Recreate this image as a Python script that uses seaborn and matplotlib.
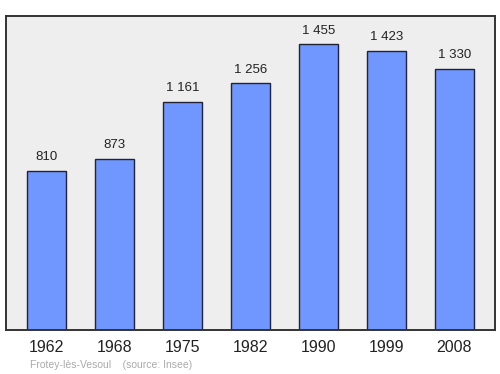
import matplotlib
matplotlib.use("Agg")
import matplotlib.pyplot as plt
import seaborn as sns
import pandas as pd

years = ["1962", "1968", "1975", "1982", "1990", "1999", "2008"]
population = [810, 873, 1161, 1256, 1455, 1423, 1330]
value_labels = ["810", "873", "1 161", "1 256", "1 455", "1 423", "1 330"]
footer = "Frotey-lès-Vesoul    (source: Insee)"

sns.set_theme(style="white")
plt.rcParams['font.family'] = ['Liberation Sans', 'DejaVu Sans']

df = pd.DataFrame({"year": years, "pop": population})

fig = plt.figure(figsize=(5, 3.74), dpi=100)
ax = fig.add_axes([0.012, 0.1176, 0.978, 0.84])
ax.set_facecolor("#eeeeee")
sns.barplot(data=df, x="year", y="pop", ax=ax, color="#7097ff", saturation=1,
            width=0.57, edgecolor="#222233", linewidth=1.0)
ax.set_xlim(-0.6, 6.6)
ax.set_ylim(0, 1600)
ax.set_xlabel("")
ax.set_ylabel("")
ax.set_yticks([])
ax.tick_params(axis="x", length=0, labelsize=11.5, pad=7, colors="#222222")
for s in ax.spines.values():
    s.set_linewidth(1.4)
    s.set_color("#333333")
for i, (v, lab) in enumerate(zip(population, value_labels)):
    ax.annotate(lab, (i, v), xytext=(0, 5.5), textcoords="offset points",
                ha="center", va="bottom", fontsize=9.5, color="#222222")
fig.text(0.06, 0.011, footer, fontsize=7.5, color="#aaaaaa", ha="left", va="bottom")
fig.savefig("out.png", dpi=100)
